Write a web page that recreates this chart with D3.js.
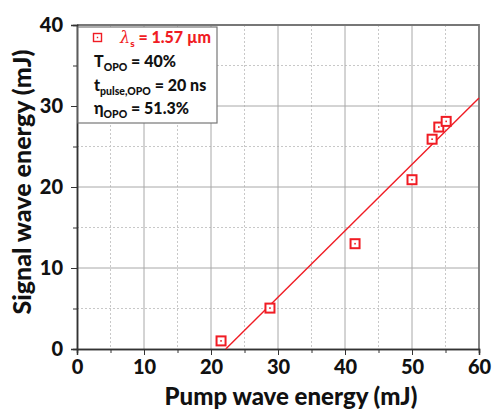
<!DOCTYPE html>
<html>
<head>
<meta charset="utf-8">
<script src="https://cdn.jsdelivr.net/npm/d3@7"></script>
<style>
  body { margin: 0; background: #fff; }
  text { font-family: Lato, "Open Sans", sans-serif; font-weight: 900; }
</style>
</head>
<body>
<div id="chart"></div>
<script>
// measured points
var pump = [21.5, 28.8, 41.5, 50, 53, 54, 55.1];
var signal = [1, 5.05, 13, 20.9, 25.9, 27.4, 28.1];
// linear fit, drawn between its two end points
var fitX = [22.2, 60];
var fitY = [0, 31];
var xTicks = [0, 10, 20, 30, 40, 50, 60];
var yTicks = [0, 10, 20, 30, 40];
var minorX = [5, 15, 25, 35, 45, 55];
var minorY = [5, 15, 25, 35];

var svgWidth = 493;
var svgHeight = 410;
var margin = { top: 25, right: 14, bottom: 61, left: 77 };
var width = svgWidth - margin.left - margin.right;
var height = svgHeight - margin.top - margin.bottom;
var red = "#f01c24";

var svg = d3.select("#chart").append("svg")
  .attr("width", svgWidth)
  .attr("height", svgHeight);

var g = svg.append("g")
  .attr("transform", `translate(${margin.left}, ${margin.top})`);

var x = d3.scaleLinear().domain([0, 60]).range([0, width]);
var y = d3.scaleLinear().domain([0, 40]).range([height, 0]);

// grid
g.selectAll(".vmin").data(minorX).enter().append("line")
  .attr("x1", d => x(d)).attr("x2", d => x(d))
  .attr("y1", 0).attr("y2", height)
  .attr("stroke", "#c8c8c8").attr("stroke-dasharray", "2,2");
g.selectAll(".hmin").data(minorY).enter().append("line")
  .attr("y1", d => y(d)).attr("y2", d => y(d))
  .attr("x1", 0).attr("x2", width)
  .attr("stroke", "#c8c8c8").attr("stroke-dasharray", "2,2");
g.selectAll(".vmaj").data(xTicks.slice(1, -1)).enter().append("line")
  .attr("x1", d => x(d)).attr("x2", d => x(d))
  .attr("y1", 0).attr("y2", height)
  .attr("stroke", "#a8a8a8");
g.selectAll(".hmaj").data(yTicks.slice(1, -1)).enter().append("line")
  .attr("y1", d => y(d)).attr("y2", d => y(d))
  .attr("x1", 0).attr("x2", width)
  .attr("stroke", "#a8a8a8");

// top and right frame
g.append("path")
  .attr("d", `M0,0H${width}V${height}`)
  .attr("fill", "none").attr("stroke", "#777").attr("stroke-width", 1.8);

// axes
g.append("g")
  .attr("transform", `translate(0, ${height})`)
  .call(d3.axisBottom(x).tickValues(xTicks).tickSize(6).tickPadding(5));
g.append("g")
  .attr("transform", `translate(0, ${height})`)
  .call(d3.axisBottom(x).tickValues(minorX).tickSize(4).tickFormat(""));
g.append("g")
  .call(d3.axisLeft(y).tickValues(yTicks).tickSize(6).tickPadding(8));
g.append("g")
  .call(d3.axisLeft(y).tickValues(minorY).tickSize(4).tickFormat(""));
g.selectAll(".domain").attr("stroke", "#333").attr("stroke-width", 1.5);
g.selectAll(".tick line").attr("stroke", "#333");
g.selectAll(".tick text")
  .attr("fill", "#111")
  .style("font-size", "20px");

// fit line
var fit = fitX.map((d, i) => [d, fitY[i]]);
g.append("path")
  .datum(fit)
  .attr("fill", "none")
  .attr("stroke", red)
  .attr("stroke-width", 1.4)
  .attr("d", d3.line().x(d => x(d[0])).y(d => y(d[1])));

// markers
var pts = pump.map((d, i) => [d, signal[i]]);
var marks = g.selectAll(".pt").data(pts).enter().append("g")
  .attr("transform", d => `translate(${x(d[0])}, ${y(d[1])})`);
marks.append("rect")
  .attr("x", -4.5).attr("y", -4.5).attr("width", 9).attr("height", 9)
  .attr("fill", "#fff").attr("stroke", red).attr("stroke-width", 2);
marks.append("rect")
  .attr("x", -0.8).attr("y", -0.8).attr("width", 1.6).attr("height", 1.6)
  .attr("fill", red);

// legend box
var leg = g.append("g").attr("transform", "translate(1, 2)");
leg.append("rect")
  .attr("width", 139).attr("height", 96)
  .attr("fill", "#fff").attr("stroke", "#777").attr("stroke-width", 1.2);
leg.append("rect")
  .attr("x", 15.5).attr("y", 6.5).attr("width", 8).attr("height", 8)
  .attr("fill", "none").attr("stroke", red).attr("stroke-width", 1.4);
leg.append("rect")
  .attr("x", 18.8).attr("y", 9.8).attr("width", 1.4).attr("height", 1.4)
  .attr("fill", red);

var l1 = leg.append("text").attr("x", 42).attr("y", 16)
  .attr("fill", red).style("font-size", "16px");
l1.append("tspan").text("λ").style("font-style", "italic").style("font-family", "DejaVu Serif").style("font-weight", "normal");
l1.append("tspan").text("s").attr("dy", 4).style("font-size", "10px");
l1.append("tspan").text(" = 1.57 µm").attr("dy", -4);

function subText(yy, main, sub, rest) {
  var t = leg.append("text").attr("x", 16).attr("y", yy)
    .attr("fill", "#111").style("font-size", "16px");
  t.append("tspan").text(main);
  t.append("tspan").text(sub).attr("dy", 4).style("font-size", "10.5px");
  t.append("tspan").text(rest).attr("dy", -4);
}
subText(40, "T", "OPO", " = 40%");
subText(64, "t", "pulse,OPO", " = 20 ns");
subText(87, "η", "OPO", " = 51.3%");

// axis titles
svg.append("text")
  .attr("x", 291).attr("y", 405)
  .attr("text-anchor", "middle")
  .attr("fill", "#111")
  .style("font-size", "24px")
  .text("Pump wave energy (mJ)");
svg.append("text")
  .attr("transform", "translate(31, 182) rotate(-90)")
  .attr("text-anchor", "middle")
  .attr("fill", "#111")
  .style("font-size", "25px")
  .text("Signal wave energy (mJ)");
</script>
</body>
</html>
